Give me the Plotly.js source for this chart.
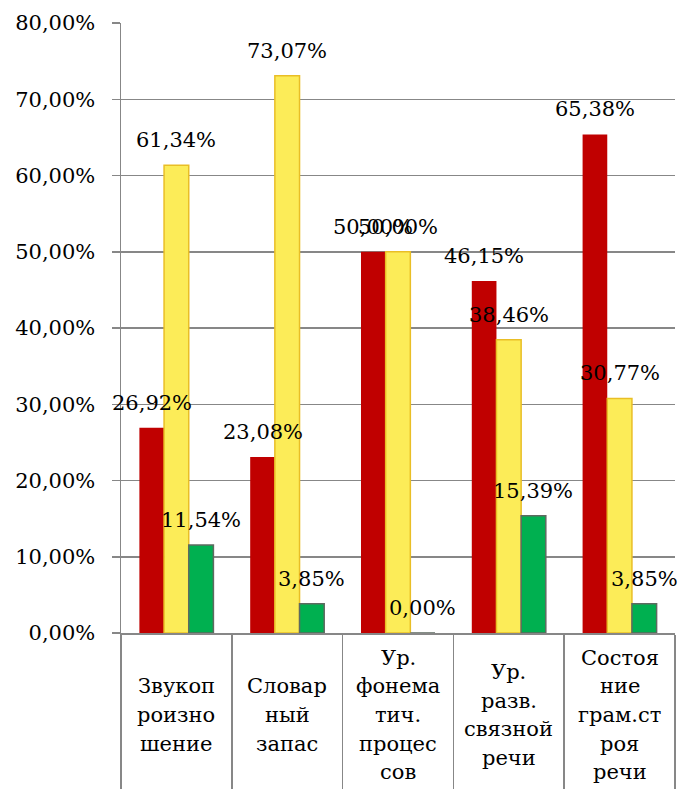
<!DOCTYPE html>
<html>
<head>
<meta charset="utf-8">
<script src="https://cdn.plot.ly/plotly-3.0.1.min.js"></script>
<style>
html,body{margin:0;padding:0;background:#fff;}
#chart{width:680px;height:789px;}
</style>
</head>
<body>
<div id="chart"></div>
<script>
// Categories (line breaks as in the original labels)
var categories = [
  "Звукоп\nроизно\nшение",
  "Словар\nный\nзапас",
  "Ур.\nфонема\nтич.\nпроцес\nсов",
  "Ур.\nразв.\nсвязной\nречи",
  "Состоя\nние\nграм.ст\nроя\nречи"
];
// Series values, %
var seriesRed = [26.92, 23.08, 50.00, 46.15, 65.38];
var seriesYellow = [61.34, 73.07, 50.00, 38.46, 30.77];
var seriesGreen = [11.54, 3.85, 0.00, 15.39, 3.85];
// Y tick values
var yTicks = [0, 10, 20, 30, 40, 50, 60, 70, 80];

var FONT = 'DejaVu Serif';
var FS = 21;
var GRID = '#878787';
var catKeys = categories.map(function (c, i) { return 'c' + i; });

var M = {l: 121, r: 5, t: 23, b: 156};
var W = 680, H = 789;
var bargap = 0.332;
var plotW = W - M.l - M.r;
var barPx = plotW / categories.length * (1 - bargap) / 3;

function fmt(v) { return v.toFixed(2).replace('.', ',') + '%'; }

var series = [
  {y: seriesRed, fill: '#C00000', line: '#C00000', lw: 0},
  {y: seriesYellow, fill: '#FCEC58', line: '#E9BE26', lw: 1.5},
  {y: seriesGreen, fill: '#00B050', line: '#5E6A60', lw: 1.5}
];

var traces = series.map(function (s) {
  return {
    type: 'bar', x: catKeys, y: s.y,
    marker: {color: s.fill, line: {color: s.line, width: s.lw}},
    hoverinfo: 'skip', showlegend: false
  };
});

var annotations = [];
series.forEach(function (s, si) {
  s.y.forEach(function (v, ci) {
    annotations.push({
      x: catKeys[ci], y: v, xref: 'x', yref: 'y',
      xshift: (si - 1) * barPx, yshift: 25,
      text: fmt(v), showarrow: false,
      xanchor: 'center', yanchor: 'middle',
      font: {family: FONT, size: FS, color: '#000'}
    });
  });
});

var LINE = 28.7;
categories.forEach(function (c, ci) {
  var lines = c.split('\n');
  var n = lines.length;
  lines.forEach(function (ln, li) {
    annotations.push({
      x: catKeys[ci], xref: 'x', y: 0, yref: 'paper',
      yshift: -82 - (li - (n - 1) / 2) * LINE,
      text: ln, showarrow: false,
      xanchor: 'center', yanchor: 'middle',
      font: {family: FONT, size: FS, color: '#000'}
    });
  });
});

var layout = {
  width: W, height: H,
  margin: M,
  paper_bgcolor: '#fff', plot_bgcolor: '#fff',
  barmode: 'group', bargap: bargap, bargroupgap: 0,
  separators: ', ',
  showlegend: false,
  font: {family: FONT},
  xaxis: {
    type: 'category', range: [-0.5, categories.length - 0.5], autorange: false,
    showticklabels: false,
    tickson: 'boundaries', ticks: 'outside', ticklen: 160,
    tickcolor: GRID, tickwidth: 1.5,
    showline: true, linecolor: GRID, linewidth: 1.5,
    showgrid: false, zeroline: false, fixedrange: true
  },
  yaxis: {
    range: [0, 80], autorange: false,
    tickmode: 'array', tickvals: yTicks, ticktext: yTicks.map(fmt),
    ticks: 'outside', ticklen: 8, tickcolor: GRID, tickwidth: 1.5,
    ticklabelstandoff: 12,
    showgrid: true, gridcolor: GRID, gridwidth: 1.5,
    showline: true, linecolor: GRID, linewidth: 1.5,
    zeroline: false, fixedrange: true,
    tickfont: {family: FONT, size: FS, color: '#000'}
  },
  annotations: annotations
};

Plotly.newPlot('chart', traces, layout, {displayModeBar: false, staticPlot: true});
</script>
</body>
</html>
